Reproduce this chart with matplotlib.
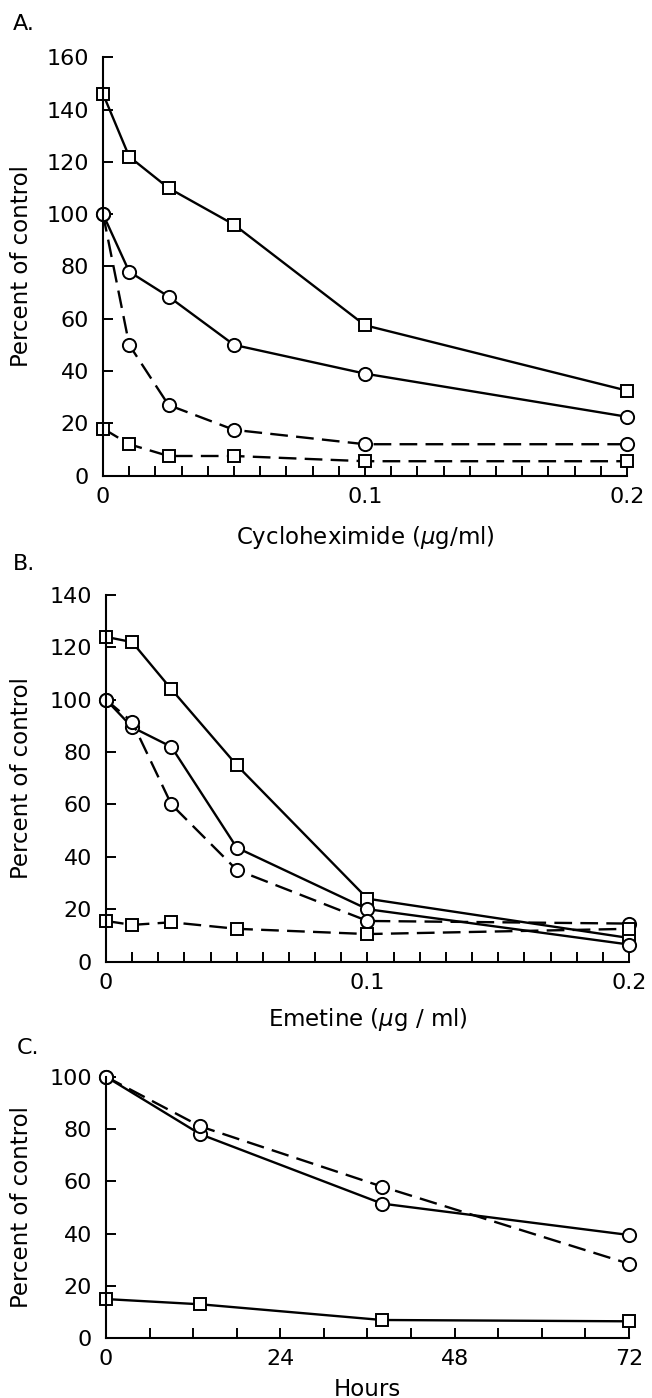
import matplotlib.pyplot as plt
from matplotlib.ticker import MultipleLocator, FixedLocator

plt.rcParams['font.family'] = 'DejaVu Sans'

# A. cycloheximide
cyc_dose = [0, 0.01, 0.025, 0.05, 0.1, 0.2]
cyc_sq_solid = [146, 122, 110, 96, 57.5, 32.5]
cyc_ci_solid = [100, 78, 68.5, 50, 39, 22.5]
cyc_ci_dash = [100, 50, 27, 17.5, 12, 12]
cyc_sq_dash = [18, 12, 7.5, 7.5, 5.5, 5.5]

# B. emetine
eme_dose = [0, 0.01, 0.025, 0.05, 0.1, 0.2]
eme_sq_solid = [124, 122, 104, 75, 24, 9]
eme_ci_solid = [100, 89.5, 82, 43.5, 20, 6.5]
eme_ci_dash = [100, 91.5, 60, 35, 15.5, 14.5]
eme_sq_dash = [15.5, 14, 15, 12.5, 10.5, 12.5]

# C. time course
hours = [0, 13, 38, 72]
hr_ci_solid = [100, 78, 51.5, 39.5]
hr_ci_dash = [100, 81, 58, 28.5]
hr_sq_solid = [15, 13, 7, 6.5]

TICK_FS = 16
LABEL_FS = 16.5
LW = 1.7
DASH = (0, (7.5, 3.5))


def line(ax, x, y, marker, ls):
    ms = 9.5 if marker == 'o' else 8.3
    ax.plot(x, y, color='black', lw=LW, ls=ls, marker=marker, ms=ms,
            mfc='white', mec='black', mew=1.4, clip_on=False)


def style(ax, ymax):
    for s in ['top', 'right']:
        ax.spines[s].set_visible(False)
    for s in ['left', 'bottom']:
        ax.spines[s].set_linewidth(1.5)
    ax.set_ylim(0, ymax)
    ax.yaxis.set_major_locator(MultipleLocator(20))
    ax.tick_params(which='both', direction='in', length=7, width=1.4,
                   labelsize=TICK_FS)
    ax.tick_params(axis='y', pad=10)
    ax.tick_params(axis='x', pad=8)
    ax.set_ylabel('Percent of control', fontsize=LABEL_FS)


fig = plt.figure(figsize=(6.52, 13.98), dpi=100)

# panel A
axA = fig.add_axes([0.1580, 0.6598, 0.8037, 0.2992])
line(axA, cyc_dose, cyc_sq_solid, 's', '-')
line(axA, cyc_dose, cyc_ci_solid, 'o', '-')
line(axA, cyc_dose, cyc_ci_dash, 'o', DASH)
line(axA, cyc_dose, cyc_sq_dash, 's', DASH)
style(axA, 160)
axA.set_xlim(0, 0.2)
axA.xaxis.set_major_locator(FixedLocator([0, 0.1, 0.2]))
axA.set_xticklabels(['0', '0.1', '0.2'])
axA.xaxis.set_minor_locator(MultipleLocator(0.01))
axA.set_xlabel(r'Cycloheximide ($\mu$g/ml)', fontsize=LABEL_FS)
axA.xaxis.set_label_coords(0.5, -0.115)
axA.yaxis.set_label_coords(-0.134, 0.5)

# panel B
axB = fig.add_axes([0.1626, 0.3122, 0.8021, 0.2622])
line(axB, eme_dose, eme_sq_solid, 's', '-')
line(axB, eme_dose, eme_ci_solid, 'o', '-')
line(axB, eme_dose, eme_ci_dash, 'o', DASH)
line(axB, eme_dose, eme_sq_dash, 's', DASH)
style(axB, 140)
axB.set_xlim(0, 0.2)
axB.xaxis.set_major_locator(FixedLocator([0, 0.1, 0.2]))
axB.set_xticklabels(['0', '0.1', '0.2'])
axB.xaxis.set_minor_locator(MultipleLocator(0.01))
axB.set_xlabel(r'Emetine ($\mu$g / ml)', fontsize=LABEL_FS)
axB.xaxis.set_label_coords(0.5, -0.122)
axB.yaxis.set_label_coords(-0.140, 0.5)

# panel C
axC = fig.add_axes([0.1626, 0.0427, 0.8021, 0.1871])
line(axC, hours, hr_ci_solid, 'o', '-')
line(axC, hours, hr_ci_dash, 'o', DASH)
line(axC, hours, hr_sq_solid, 's', '-')
style(axC, 100)
axC.set_xlim(0, 72)
axC.xaxis.set_major_locator(MultipleLocator(24))
axC.xaxis.set_minor_locator(MultipleLocator(6))
axC.set_xlabel('Hours', fontsize=LABEL_FS)
axC.xaxis.set_label_coords(0.5, -0.150)
axC.yaxis.set_label_coords(-0.140, 0.5)

fig.text(0.02, 1 - 14 / 1398, 'A.', fontsize=TICK_FS, va='top')
fig.text(0.02, 1 - 554 / 1398, 'B.', fontsize=TICK_FS, va='top')
fig.text(0.025, 1 - 1038 / 1398, 'C.', fontsize=TICK_FS, va='top')

fig.savefig('out.png', dpi=100)
